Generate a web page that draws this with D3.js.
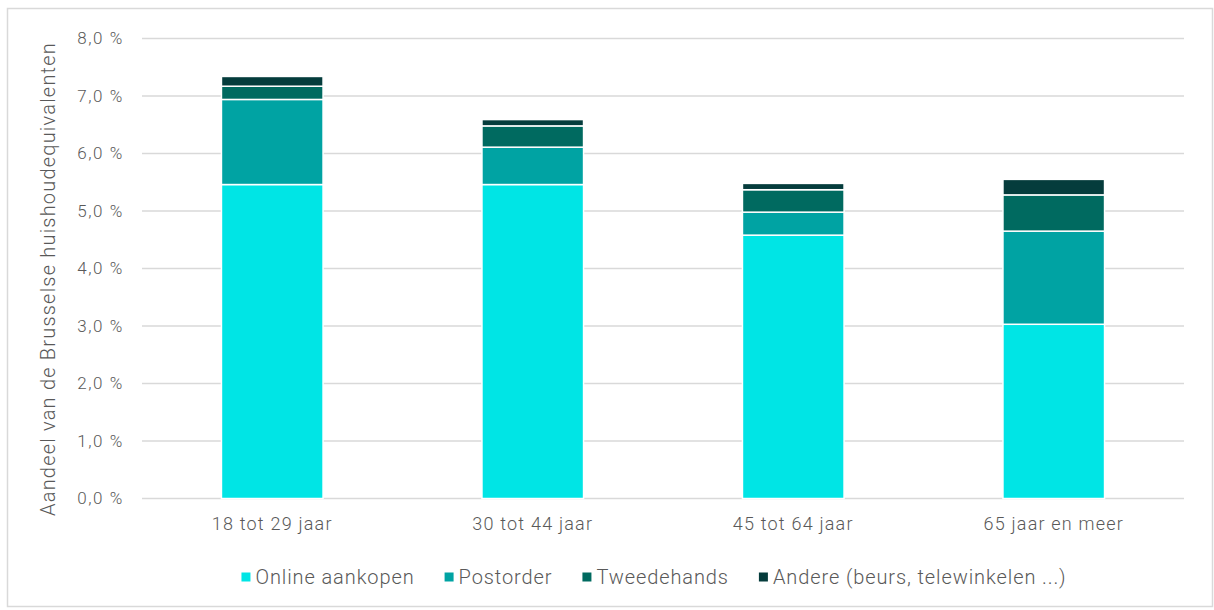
<!DOCTYPE html>
<html><head><meta charset="utf-8">
<script src="https://cdn.jsdelivr.net/npm/d3@7"></script>
<style>
html,body{margin:0;padding:0;background:#fff;}
text{font-family:Roboto,"Open Sans",sans-serif;font-weight:300;fill:#595959;}
</style></head>
<body><svg id="c" width="1214" height="610"></svg>
<script>
const categories = ["18 tot 29 jaar","30 tot 44 jaar","45 tot 64 jaar","65 jaar en meer"];
const seriesNames = ["Online aankopen","Postorder","Tweedehands","Andere (beurs, telewinkelen ...)"];
const online = [5.46, 5.46, 4.58, 3.03];
const postorder = [1.48, 0.65, 0.40, 1.62];
const tweedehands = [0.23, 0.37, 0.39, 0.63];
const andere = [0.17, 0.11, 0.11, 0.27];
const yTicks = [0,1,2,3,4,5,6,7,8];
const colors = ["#00E5E5","#00A3A3","#006A60","#053C3C"];

(function(){
const svg = d3.select("#c");
svg.append("rect").attr("x",7.5).attr("y",8.5).attr("width",1205).attr("height",598)
  .attr("fill","#fff").attr("stroke","#d9d9d9").attr("stroke-width",1.5);

const pLeft = 142, pRight = 1184, pTop = 38.5, pBottom = 498.5;
const x = d3.scaleBand().domain(categories).range([pLeft,pRight]).paddingInner(0.61).paddingOuter(0.305);
const y = d3.scaleLinear().domain([0,8]).range([pBottom,pTop]);

svg.append("g").selectAll("line").data(yTicks).join("line")
  .attr("x1",pLeft).attr("x2",pRight).attr("y1",d=>y(d)).attr("y2",d=>y(d))
  .attr("stroke","#d9d9d9").attr("stroke-width",1.5);

svg.append("g").selectAll("text").data(yTicks).join("text")
  .attr("x",124).attr("y",d=>y(d)).attr("dy","0.35em").attr("text-anchor","end")
  .style("font-size","17px").style("letter-spacing","1.6px").text(d=>d3.format(".1f")(d).replace(".",",")+" %");

const rows = categories.map((c,i)=>({cat:c, s0:online[i], s1:postorder[i], s2:tweedehands[i], s3:andere[i]}));
const stack = d3.stack().keys(["s0","s1","s2","s3"])(rows);

svg.append("g").selectAll("g").data(stack).join("g").attr("fill",(d,i)=>colors[i])
  .selectAll("rect").data(d=>d).join("rect")
  .attr("x",d=>x(d.data.cat)).attr("width",x.bandwidth())
  .attr("y",d=>y(d[1])).attr("height",d=>y(d[0])-y(d[1]))
  .attr("stroke","#fff").attr("stroke-width",1.5);

svg.append("g").selectAll("text").data(categories).join("text")
  .attr("x",d=>x(d)+x.bandwidth()/2).attr("y",530).attr("text-anchor","middle")
  .style("font-size","18px").style("letter-spacing","1.2px").text(d=>d);

svg.append("text").attr("transform","translate(55,279) rotate(-90)").attr("text-anchor","middle")
  .style("font-size","20px").style("letter-spacing","1.2px").text("Aandeel van de Brusselse huishoudequivalenten");

const lg = svg.append("g");
const items = lg.selectAll("g").data(seriesNames).join("g");
items.append("rect").attr("x",0).attr("y",-4.5).attr("width",9).attr("height",9).attr("fill",(d,i)=>colors[i]);
items.append("text").attr("x",14).attr("y",0).attr("dy","0.35em")
  .style("font-size","20px").style("letter-spacing","0.9px").text(d=>d);
let cx = 0; const gap = 30; const offs = [];
items.each(function(){ offs.push(cx); cx += 14 + this.querySelector("text").getComputedTextLength() + gap; });
const total = cx - gap;
const start = 654 - total/2;
items.attr("transform",(d,i)=>`translate(${start+offs[i]},577)`);
})();
</script></body></html>
